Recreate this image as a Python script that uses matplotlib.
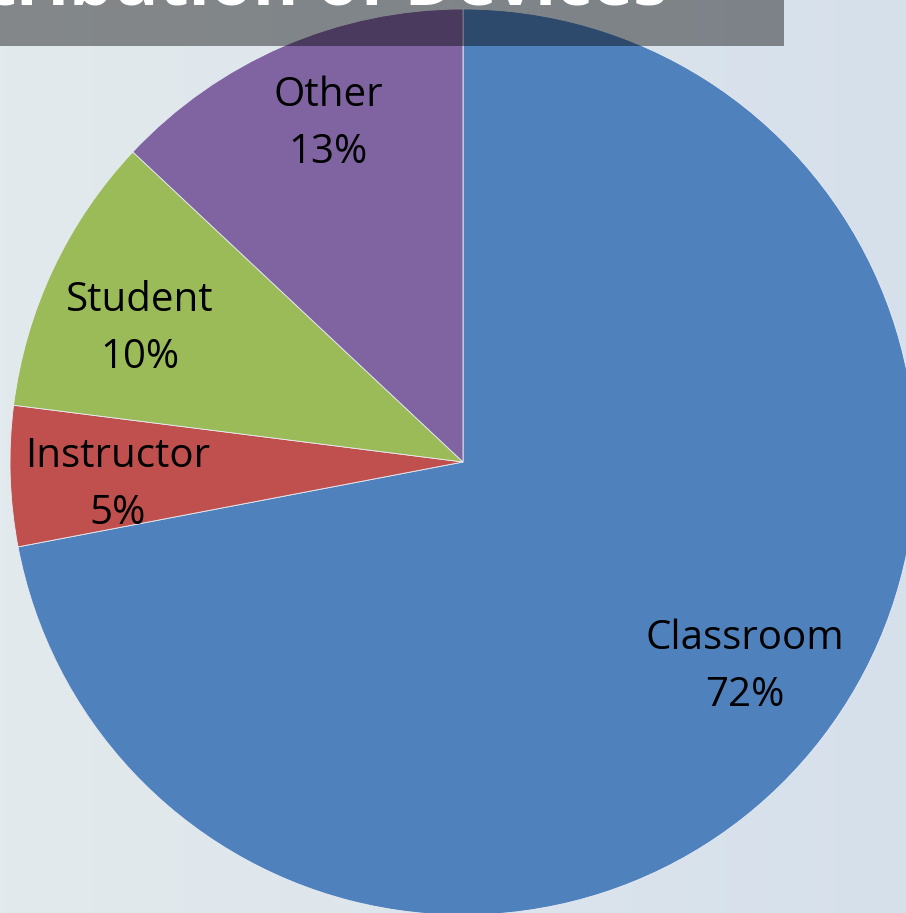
import numpy as np
import matplotlib
matplotlib.use("Agg")
import matplotlib.pyplot as plt
from matplotlib.patches import Rectangle

categories = ["Classroom", "Instructor", "Student", "Other"]
values = [72, 5, 10, 13]
colors = ["#4F81BD", "#C0504D", "#9BBB59", "#8064A2"]
title = "Distribution of Devices"

W, H = 906, 913
fig = plt.figure(figsize=(W / 100, H / 100), dpi=100)
ax = fig.add_axes([0, 0, 1, 1])

# background gradient
xs = np.linspace(0, 1, 256)
left = np.array([227, 234, 237]) / 255
right = np.array([214, 224, 235]) / 255
grad = left[None, :] * (1 - xs[:, None]) + right[None, :] * xs[:, None]
img = np.tile(grad[None, :, :], (2, 1, 1))
ax.imshow(img, extent=[0, W, 0, H], aspect="auto", zorder=0)

labels = [f"{c}\n{v}%" for c, v in zip(categories, values)]
wedges, texts = ax.pie(values, colors=colors, startangle=90, counterclock=False,
                       center=(463, H - 462), radius=453, labels=labels,
                       labeldistance=0.77, frame=True,
                       wedgeprops=dict(edgecolor="#e8ecf4", linewidth=0.6),
                       textprops=dict(fontsize=29, family="Open Sans", color="black",
                                      linespacing=1.55))
ax.set_xlim(0, W)
ax.set_ylim(0, H)
ax.set_axis_off()

# label placement (pixel positions of label centres)
label_pos = {"Classroom": (745, 667), "Instructor": (118, 485),
             "Student": (140, 329), "Other": (328, 124)}
for t, c in zip(texts, categories):
    px, py = label_pos[c]
    t.set_position((px, H - py))
    t.set_ha("center")
    t.set_va("center")
    t.set_zorder(5)

# title band
ax.add_patch(Rectangle((0, H - 46), 784, 46, facecolor="black", alpha=0.42,
                       edgecolor="none", zorder=6))
ax.text(668, H - 4, title, ha="right", va="baseline", fontsize=50,
        fontweight="bold", family="Open Sans", color="white", zorder=7)

fig.savefig("out.png", dpi=100)
